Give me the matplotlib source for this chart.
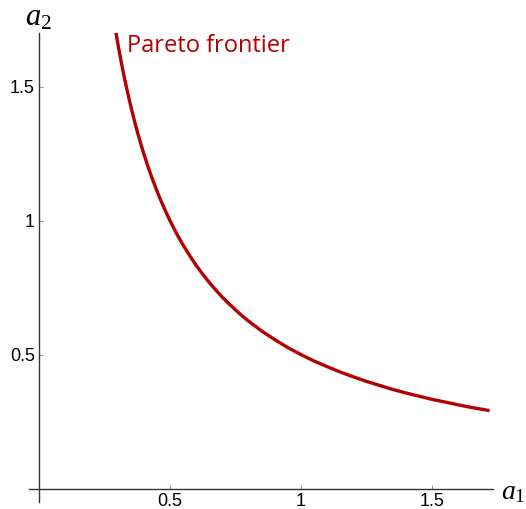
import matplotlib
matplotlib.use("Agg")
import matplotlib.pyplot as plt

a1 = [0.29, 0.295, 0.30, 0.305, 0.31, 0.315, 0.32, 0.325, 0.33, 0.335, 0.34, 0.35, 0.36, 0.37,
      0.38, 0.39, 0.40, 0.415, 0.43, 0.445, 0.46, 0.48, 0.50, 0.525, 0.55, 0.575,
      0.60, 0.625, 0.65, 0.675, 0.70, 0.725, 0.75, 0.775, 0.80, 0.85, 0.90, 0.95, 1.00, 1.05,
      1.10, 1.15, 1.20, 1.25, 1.30, 1.35, 1.40, 1.45, 1.50, 1.55, 1.60, 1.65, 1.72]
a2 = [1.724, 1.695, 1.667, 1.639, 1.613, 1.587, 1.5625, 1.538, 1.515, 1.493, 1.471, 1.429, 1.389, 1.351,
      1.316, 1.282, 1.25, 1.205, 1.163, 1.124, 1.087, 1.042, 1.0, 0.952, 0.909, 0.870,
      0.833, 0.800, 0.769, 0.741, 0.714, 0.690, 0.667, 0.645, 0.625, 0.588, 0.556, 0.526, 0.5, 0.476,
      0.455, 0.435, 0.417, 0.400, 0.385, 0.370, 0.357, 0.345, 0.333, 0.323, 0.3125, 0.303, 0.291]
xticks = [0.5, 1.0, 1.5]
xticklabels = ["0.5", "1", "1.5"]
yticks = [0.5, 1.0, 1.5]
yticklabels = ["0.5", "1", "1.5"]

plt.rcParams['mathtext.fontset'] = 'custom'
plt.rcParams['mathtext.rm'] = 'Liberation Serif'
plt.rcParams['mathtext.it'] = 'Liberation Serif:italic'

W, H = 526, 509
fig = plt.figure(figsize=(W/100, H/100), dpi=100)
left, right, top, bottom = 29, 493, 33, 502
ax = fig.add_axes([left/W, (H-bottom)/H, (right-left)/W, (bottom-top)/H])
ax.set_xlim(-0.038, 1.733)
ax.set_ylim(-0.05, 1.70)

red = "#b30000"
ax.plot(a1, a2, color=red, lw=2.4, solid_capstyle='butt', solid_joinstyle='round')

for s in ['top', 'right']:
    ax.spines[s].set_visible(False)
ax.spines['left'].set_position(('data', 0))
ax.spines['bottom'].set_position(('data', 0))
for s in ['left', 'bottom']:
    ax.spines[s].set_color('#333333')
    ax.spines[s].set_linewidth(1.0)

ax.set_xticks(xticks)
ax.set_xticklabels(xticklabels)
ax.set_yticks(yticks)
ax.set_yticklabels(yticklabels)
ax.tick_params(direction='in', length=3, width=0.8, color='#999999',
               labelsize=13, pad=3)
for lab in ax.get_xticklabels() + ax.get_yticklabels():
    lab.set_fontfamily('Liberation Sans')

fig.text(38/W, 1 - 26/H, r"$a_2$", fontsize=22, ha='center', va='baseline')
fig.text(501/W, 1 - 499/H, r"$a_1$", fontsize=20, ha='left', va='baseline')

ax.text(0.335, 1.652, "Pareto frontier", color=red, fontsize=17,
        fontfamily='Open Sans', ha='left', va='center')

fig.savefig("out.png", dpi=100)
